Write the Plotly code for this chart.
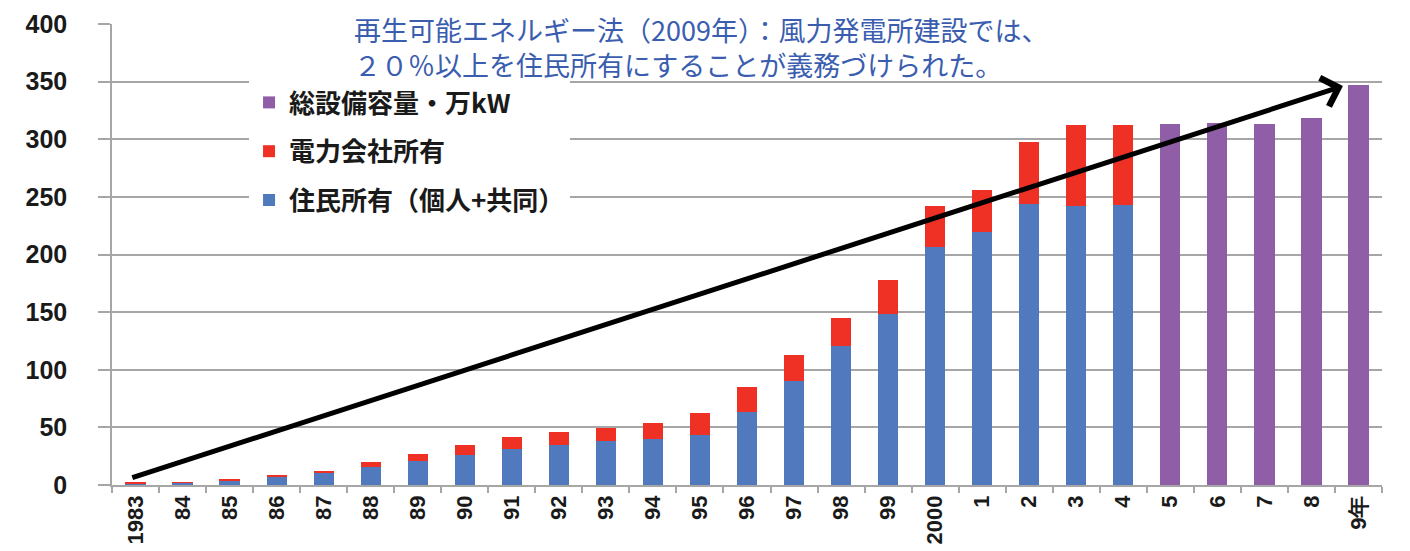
import plotly.graph_objects as go

# ---- data ----
years = ['1983', '84', '85', '86', '87', '88', '89', '90', '91', '92', '93', '94',
         '95', '96', '97', '98', '99', '2000', '1', '2', '3', '4', '5', '6', '7', '8', '9年']
years_split = years[:22]
years_total = years[22:]
resident = [1.0, 1.8, 4.3, 7.2, 10.7, 15.9, 21.1, 26.0, 31.5, 34.7, 38.0, 39.5,
            43.8, 63.6, 90.5, 120.6, 148.1, 206.8, 219.2, 243.8, 242.1, 242.7]
utility = [1.9, 0.8, 0.9, 1.2, 1.2, 3.8, 5.5, 8.4, 9.9, 11.0, 11.5, 14.3,
           18.4, 21.2, 22.3, 24.0, 29.5, 35.3, 36.8, 53.5, 70.3, 69.7]
total_later = [313.2, 314.4, 313.2, 318.7, 347.1]

name_total = '総設備容量・万kW'
name_utility = '電力会社所有'
name_resident = '住民所有（個人+共同）'
title_text = ('再生可能エネルギー法（2009年）：風力発電所建設では、<br>'
              '２０％以上を住民所有にすることが義務づけられた。')

BLUE = '#5079BE'
RED = '#EE3124'
PURPLE = '#8F5EA7'
GRID = '#A6A6A6'
CJK = 'Noto Sans CJK JP'
LAT = 'Liberation Sans, Arial, sans-serif'

fig = go.Figure()
fig.add_bar(x=years_split, y=resident, name=name_resident, marker_color=BLUE,
            marker_line_width=0, legendgroup='c', legendrank=3)
fig.add_bar(x=years_split, y=utility, name=name_utility, marker_color=RED,
            marker_line_width=0, legendgroup='b', legendrank=2)
fig.add_bar(x=years_total, y=total_later, name=name_total, marker_color=PURPLE,
            marker_line_width=0, legendgroup='a', legendrank=1)

# arrow from the first year to the last year's total
start_y = resident[0] + utility[0] + 3
end_y = total_later[-1]
fig.add_annotation(x=len(years) - 1 - 0.33, y=end_y - 1, xref='x', yref='y',
                   ax=-0.1, ay=start_y, axref='x', ayref='y',
                   text='', showarrow=True, arrowhead=4, arrowsize=1.15,
                   arrowwidth=5, arrowcolor='black', standoff=0, startstandoff=0)

fig.add_annotation(x=0.1886, y=0.950, xref='paper', yref='paper', xanchor='left',
                   yanchor='middle', align='left', text=title_text, showarrow=False,
                   font=dict(family=CJK, size=27, color='#3A5DB0'))

fig.update_layout(
    width=1410, height=551,
    margin=dict(l=104, r=36, t=16, b=74),
    plot_bgcolor='white', paper_bgcolor='white',
    barmode='stack', bargap=0.57,
    showlegend=True,
    legend=dict(x=0.1079, y=0.8807, xanchor='left', yanchor='top',
                bgcolor='white', borderwidth=0,
                traceorder='grouped', tracegroupgap=12,
                font=dict(family=CJK, size=26, color='#1a1a1a', weight='bold')),
    xaxis=dict(type='category', categoryorder='array', categoryarray=years,
               tickangle=-90, showline=True, linecolor=GRID, linewidth=1.5,
               ticks='outside', tickson='boundaries', ticklen=6, tickcolor=GRID,
               tickwidth=1.5, automargin=False,
               tickfont=dict(family=LAT, size=22, color='#1a1a1a', weight='bold')),
    yaxis=dict(range=[0, 400], dtick=50, showgrid=True, gridcolor=GRID, gridwidth=1.5,
               showline=True, linecolor=GRID, linewidth=1.5, zeroline=False,
               ticks='outside', ticklen=12, tickcolor=GRID, tickwidth=1.5,
               ticklabelstandoff=26, automargin=False,
               tickfont=dict(family=LAT, size=25, color='#1a1a1a', weight='bold')),
)

fig.write_html('out.html')
